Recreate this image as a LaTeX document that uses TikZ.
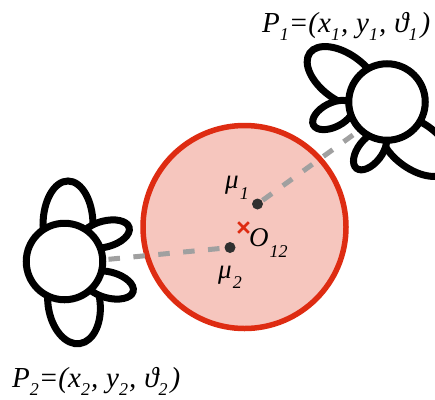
\documentclass[tikz,border=0pt]{standalone}
\usepackage{fontspec}
\setmainfont{Liberation Serif}
\usetikzlibrary{shapes.misc}
\definecolor{zonefill}{HTML}{F6C6BE}
\definecolor{zonered}{HTML}{DE2C12}
\definecolor{dashgray}{HTML}{A0A0A0}
\definecolor{dotdark}{HTML}{303030}
\newcommand{\lowsub}[2][8pt]{\raisebox{-#1}{\fontsize{18}{18}\selectfont\itshape #2}}
\tikzset{
 lobe/.style={draw=black,line width=7pt,fill=white},
 head/.style={circle,draw=black,line width=7pt,fill=white,minimum size=76.5pt,inner sep=0pt},
 center dot/.style={circle,fill=dotdark,minimum size=11pt,inner sep=0pt},
 link/.style={draw=dashgray,line width=5pt,dash pattern=on 11.5pt off 13.5pt},
 label/.style={font=\fontsize{29}{31}\selectfont\itshape,inner sep=0pt,anchor=base west,text=black},
 small label/.style={font=\fontsize{27}{29}\selectfont\itshape,inner sep=0pt,anchor=base west,text=black}
}
\begin{document}
\begin{tikzpicture}[x=1pt,y=-1pt]
\useasboundingbox (0,0) rectangle (435,399);
\clip (0,0) rectangle (435,399);
% zone
\node[circle,draw=zonered,fill=zonefill,line width=5.5pt,minimum size=203pt,inner sep=0pt] (zone) at (244.5,227) {};
% robot 1 lobes
\draw[lobe,shift={(343,77)},rotate=-36] (0,0) ellipse [x radius=41pt,y radius=23pt];
\draw[lobe,shift={(416,146)},rotate=-36] (0,0) ellipse [x radius=41pt,y radius=23pt];
\draw[lobe,shift={(333,115)},rotate=27] (0,0) ellipse [x radius=22pt,y radius=12pt];
\draw[lobe,shift={(370,151)},rotate=52] (0,0) ellipse [x radius=22pt,y radius=12pt];
% robot 2 lobes
\draw[lobe,shift={(68,225)},rotate=0] (0,0) ellipse [x radius=25pt,y radius=44pt];
\draw[lobe,shift={(74,303)},rotate=8] (0,0) ellipse [x radius=26pt,y radius=41pt];
\draw[lobe,shift={(105,234)},rotate=15] (0,0) ellipse [x radius=25pt,y radius=13pt];
\draw[lobe,shift={(109,285)},rotate=-15] (0,0) ellipse [x radius=25pt,y radius=13pt];
% heads
\node[head] (head1) at (387,102) {};
\node[head] (head2) at (64.5,261.5) {};
% centres
\node[center dot] (mu1) at (257.5,204) {};
\node[center dot] (mu2) at (230,247.5) {};
% links
\coordinate (port1) at (353,135);
\coordinate (port2) at (108.5,259.3);
\draw[link] (port1) -- (mu1);
\draw[link] (port2) -- (mu2);
% origin
\node[cross out,draw=zonered,line width=2.6pt,minimum size=8pt,inner sep=0pt] (origin) at (243.5,227.5) {};
% labels
\node[small label] (lmu1) at (225,188) {μ\kern1pt\lowsub[11pt]{1}};
\node[small label] (lmu2) at (218,278) {μ\kern1pt\lowsub[10pt]{2}};
\node[small label] (lo12) at (249,246) {O\kern1pt\lowsub[11pt]{12}};
\node[label] (lp1) at (262,32) {P\lowsub{1}=(x\lowsub{1}\kern1pt,\kern8pt y\lowsub{1}\kern1pt,\kern8pt ϑ\lowsub{1}\kern3pt)};
\node[label] (lp2) at (12,387) {P\lowsub{2}=(x\lowsub{2}\kern1pt,\kern8pt y\lowsub{2}\kern1pt,\kern8pt ϑ\lowsub{2}\kern3pt)};
\end{tikzpicture}
\end{document}
